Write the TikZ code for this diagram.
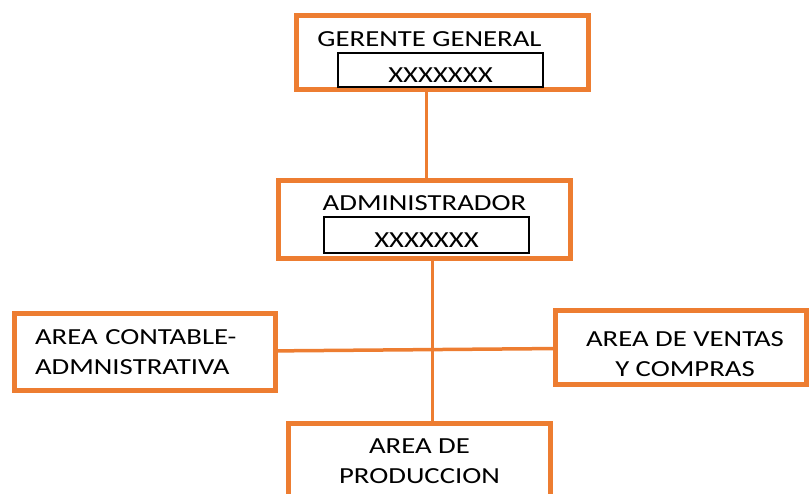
\documentclass[tikz,border=0pt]{standalone}
\usepackage{fontspec}
\setmainfont{Carlito}[FakeStretch=1.25]
\definecolor{boxorange}{RGB}{237,125,49}

\begin{document}
\begin{tikzpicture}[
            x=1pt, y=-1pt,
            font=\fontsize{23}{30}\selectfont,
            box/.style={rectangle,draw=boxorange,line width=5pt,inner sep=0pt},
            idbox/.style={rectangle,draw=black,line width=1.2pt,minimum width=205pt,
                inner sep=0pt,text height=30pt,text depth=4pt},
            link/.style={draw=boxorange,line width=3.5pt}]
            \useasboundingbox (0,0) rectangle (809,494);
            % gerente
            \node[box,minimum width=292pt,minimum height=74pt](gerente) at (442.5,52.5){};
            \node(gerentetitle) at (429.5,39){GERENTE GENERAL};
            \node[idbox,minimum height=34pt](gerenteid) at (440.5,70){XXXXXXX};
            % administrador
            \node[box,minimum width=292pt,minimum height=78pt](admin) at (424.5,219.5){};
            \node(admintitle) at (424.5,203.5){ADMINISTRADOR};
            \node[idbox,minimum height=36pt](adminid) at (426.5,235){XXXXXXX};
            % areas
            \node[box,minimum height=77pt,text width=219.5pt,inner xsep=20.5pt,align=left](contable)
                at (144.75,352){AREA CONTABLE-\\ADMNISTRATIVA};
            \node[box,minimum width=251pt,minimum height=74pt,
                label={[name=ventastxt,align=center,xshift=4pt,yshift=-7pt]center:AREA DE VENTAS\\Y COMPRAS}](ventas)
                at (681,347.5){};
            \node[box,minimum width=262pt,minimum height=76pt,align=center](produccion)
                at (419.5,461.5){AREA DE\\PRODUCCION};
            
            \path[link] (gerente.south -| adminid) edge (adminid |- admin.north)
            (admin.-79) edge (admin.-79 |- produccion.north)
            (contable) edge (ventas);
            \end{tikzpicture}
\end{document}
